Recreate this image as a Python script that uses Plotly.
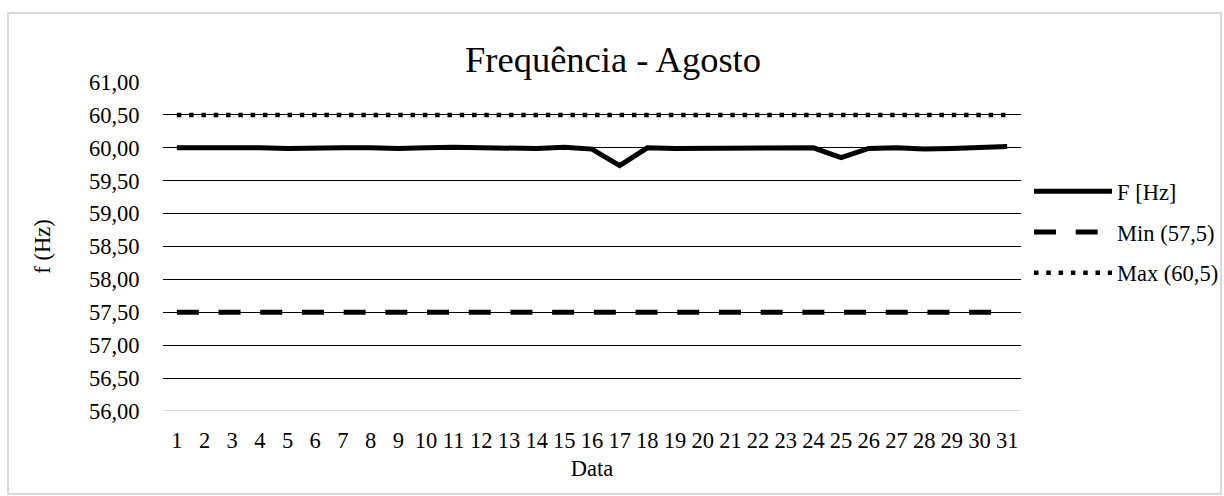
import plotly.graph_objects as go

dias = [str(i) for i in range(1, 32)]
freq = [60.00, 60.00, 60.01, 60.00, 59.99, 60.00, 60.00, 60.00, 59.99, 60.00,
        60.01, 60.00, 59.99, 59.99, 60.01, 59.98, 59.73, 60.00, 59.99, 59.99,
        60.00, 60.00, 59.99, 60.00, 59.85, 59.99, 60.00, 59.98, 59.99, 60.01, 60.02]
min_val = [57.5] * 31
max_val = [60.5] * 31

FONT = "'Times New Roman', 'Liberation Serif', serif"
FS = 22.5

fig = go.Figure()
fig.add_trace(go.Scatter(x=dias, y=freq, mode="lines", name="F [Hz]",
                         legendgroup="a",
                         line=dict(color="black", width=5)))
fig.add_trace(go.Scatter(x=dias, y=min_val, mode="lines", name="Min (57,5)",
                         legendgroup="b",
                         line=dict(color="black", width=5, dash="22px,19.7px")))
fig.add_trace(go.Scatter(x=dias, y=max_val, mode="lines", name="Max (60,5)",
                         legendgroup="c",
                         line=dict(color="black", width=4.5, dash="4.5px,7.8px")))

fig.update_layout(
    width=1224, height=496,
    margin=dict(l=163, r=203, t=82, b=85),
    paper_bgcolor="white", plot_bgcolor="white",
    separators=",.",
    font=dict(family=FONT, size=FS, color="black"),
    title=dict(text="Frequência - Agosto", x=(613) / 1224, xanchor="center",
               y=1 - 59 / 496, yanchor="middle",
               font=dict(family=FONT, size=36.5, color="black")),
    showlegend=True,
    legend=dict(xref="container", yref="container",
                x=1.0, xanchor="right", y=1 - 170 / 496, yanchor="top",
                traceorder="grouped", tracegroupgap=8.5, itemwidth=78,
                borderwidth=0,
                font=dict(family=FONT, size=FS, color="black"),
                bgcolor="rgba(0,0,0,0)"),
    xaxis=dict(type="category", range=[-0.5, 30.5], showgrid=False,
               showline=False, zeroline=False, automargin=False,
               ticks="outside", ticklen=9, tickcolor="rgba(0,0,0,0)",
               tickfont=dict(family=FONT, size=FS),
               title=dict(text="Data", standoff=8,
                          font=dict(family=FONT, size=FS))),
    yaxis=dict(range=[56, 61], dtick=0.5, tick0=56, tickformat=".2f",
               showgrid=True, gridcolor="black", gridwidth=1,
               zeroline=False, showline=False, automargin=False,
               ticks="outside", ticklen=18, tickcolor="rgba(0,0,0,0)",
               tickfont=dict(family=FONT, size=FS),
               title=dict(text="f (Hz)", standoff=32,
                          font=dict(family=FONT, size=FS))),
    shapes=[
        dict(type="line", xref="paper", yref="y", x0=0, x1=1, y0=56, y1=56,
             line=dict(color="#d9d9d9", width=2)),
        dict(type="rect", xref="paper", yref="paper",
             x0=(8 - 163) / 858, x1=(1221 - 163) / 858,
             y0=(411 - 494) / 329, y1=(411 - 13) / 329,
             line=dict(color="#d9d9d9", width=2), layer="below"),
    ],
)

fig.write_html("out.html")
